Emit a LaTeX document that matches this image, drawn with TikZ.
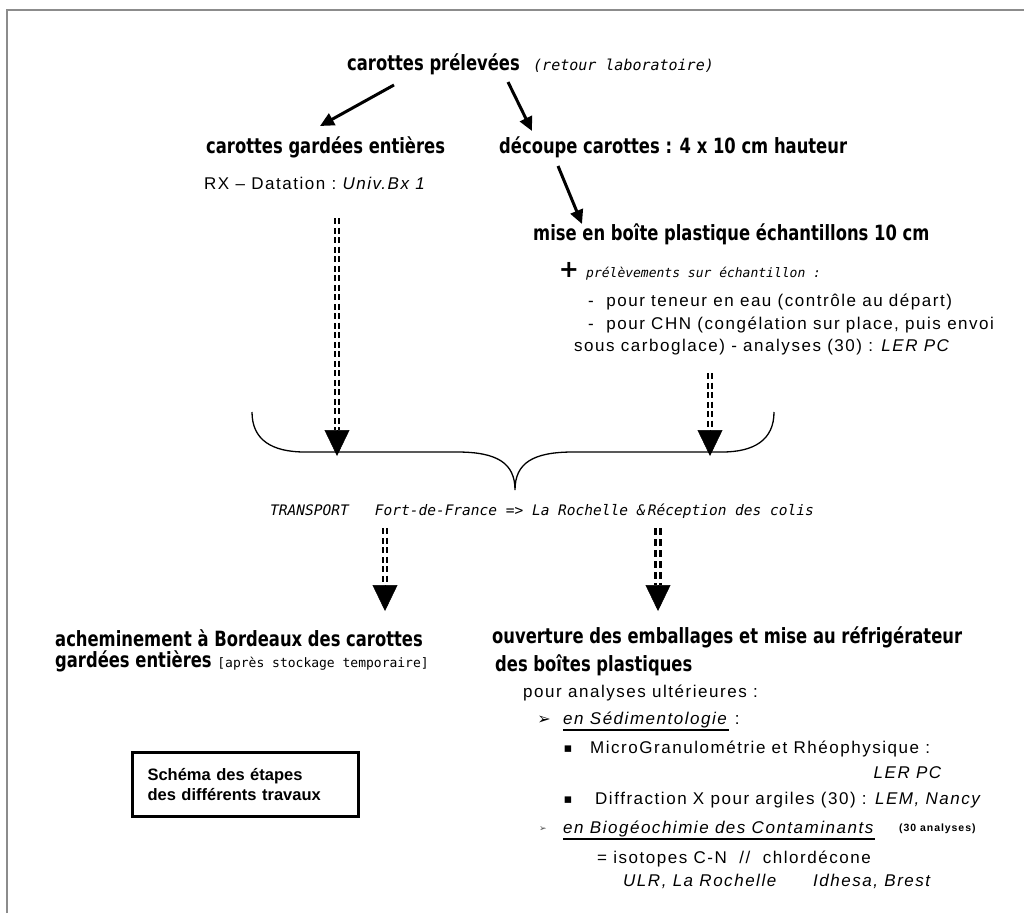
\documentclass[tikz,border=0pt]{standalone}
\usepackage{fontspec}
\setmainfont{Liberation Sans}
\newfontfamily\imp{DejaVu Sans}[FakeStretch=0.78]
\newfontfamily\rg{Liberation Sans}[LetterSpace=9]
\newfontfamily\wi{DejaVu Sans Mono}
\newfontfamily\sym{DejaVu Sans}
\usetikzlibrary{arrows.meta}
\tikzset{
  hd/.style={anchor=west, inner sep=0pt, font=\imp\bfseries\fontsize{21}{25}\selectfont},
  tx/.style={anchor=west, inner sep=0pt, font=\rg\fontsize{17}{20}\selectfont},
  wd/.style={anchor=west, inner sep=0pt, font=\wi\itshape\fontsize{15}{18}\selectfont},
  bul/.style={inner sep=0pt, font=\sym\bfseries\fontsize{16}{16}\selectfont},
  solidarr/.style={line width=3pt, -{Triangle[width=13pt,length=14pt]}},
  ddash/.style={double, double distance=1.8pt, line width=1.7pt, dash pattern=on 6pt off 3.5pt},
  ddashb/.style={double, double distance=1.6pt, line width=3pt, dash pattern=on 7pt off 4pt},
  bigtip/.style={line width=0.5pt, -{Triangle[width=25pt,length=26pt]}},
  frame/.style={draw=black!45, line width=2pt},
  uline/.style={line width=1.8pt}
}
\begin{document}
\begin{tikzpicture}[x=1pt, y=-1pt]
\useasboundingbox (0,0) rectangle (1024,913);
% page frame
\coordinate (f1) at (7,913);
\coordinate (f2) at (7,10);
\coordinate (f3) at (1024,10);
\draw[frame] (f1) -- (f2) -- (f3);

% top level
\node[hd] (top) at (347,64) {carottes prélevées};
\node[wd] (ret) at (533,66) {(retour laboratoire)};
\node[hd] (ent) at (206,147) {carottes gardées entières};
\node[hd] (dec) at (499,147) {découpe carottes : 4 x 10 cm hauteur};
\node[tx] (rx) at (204,183) {RX\ – Datation\ :\ \textit{Univ.Bx 1}};

\coordinate (a1) at (394,85);  \coordinate (a2) at (320,126);
\coordinate (b1) at (508,82);  \coordinate (b2) at (532,131);
\coordinate (c1) at (558,166); \coordinate (c2) at (582,224);
\draw[solidarr] (a1) -- (a2);
\draw[solidarr] (b1) -- (b2);
\draw[solidarr] (c1) -- (c2);

\node[hd] (mise) at (533,234) {mise en boîte plastique échantillons 10 cm};
\node[inner sep=0pt, font=\sym\bfseries\fontsize{24}{24}\selectfont] (plus) at (569,270) {+};
\node[wd, font=\wi\itshape\fontsize{13}{16}\selectfont] (prel) at (586,274) {prélèvements sur échantillon :};
\node[tx] (ten) at (588,302) {-\ \ pour teneur en eau (contrôle au départ)};
\node[tx] (chn) at (588,325) {-\ \ pour CHN (congélation sur place, puis envoi};
\node[tx] (sous) at (574,347) {sous carboglace) - analyses (30) : \textit{LER PC}};

% first dashed arrows
\coordinate (l1) at (337,218); \coordinate (l2) at (337,430); \coordinate (l3) at (337,456);
\coordinate (r1) at (710,373); \coordinate (r2) at (710,430); \coordinate (r3) at (710,456);
\draw[ddash] (l1) -- (l2);
\draw[bigtip] (l2) -- (l3);
\draw[ddash] (r1) -- (r2);
\draw[bigtip] (r2) -- (r3);

% brace
\coordinate (bl) at (252,412);
\coordinate (bt) at (515,490);
\coordinate (br) at (774,412);
\draw[line width=1.3pt] (bl) .. controls (252,440) and (272,452) .. (305,452)
  -- (457,452) .. controls (497,452) and (515,463) .. (bt)
  .. controls (515,463) and (533,452) .. (573,452)
  -- (722,452) .. controls (754,452) and (774,440) .. (br);

\node[wd, anchor=center, font=\wi\itshape\fontsize{14.5}{18}\selectfont] (tr) at (542,511) {TRANSPORT\ \ \ Fort-de-France => La Rochelle \&\,Réception des colis};

% second dashed arrows
\coordinate (m1) at (385,528); \coordinate (m2) at (385,585); \coordinate (m3) at (385,611);
\coordinate (n1) at (658,528); \coordinate (n2) at (658,585); \coordinate (n3) at (658,611);
\draw[ddash] (m1) -- (m2);
\draw[bigtip] (m2) -- (m3);
\draw[ddashb] (n1) -- (n2);
\draw[bigtip] (n2) -- (n3);

% bottom left
\node[hd] (ach) at (55,638) {acheminement à Bordeaux des carottes};
\node[hd] (gar) at (55,661) {gardées entières {\wi\mdseries\upshape\fontsize{13}{16}\selectfont [après stockage temporaire]}};

\node[draw, line width=3pt, anchor=north west, text width=196pt, minimum height=64pt,
      inner xsep=15pt, inner ysep=9pt, align=left,
      font=\bfseries\fontsize{16.5}{20}\selectfont] (box) at (131,751) {Schéma des étapes\\des différents travaux};

% bottom right
\node[hd] (ouv) at (492,637) {ouverture des emballages et mise au réfrigérateur};
\node[hd] (boi) at (495,665) {des boîtes plastiques};
\node[tx] (pa) at (523,693) {pour analyses ultérieures :};
\node[bul] (bu1) at (544,720) {➢};
\node[tx] (sed) at (563,720) {\textit{en Sédimentologie}};
\node[tx] (sedc) at ([xshift=6pt]sed.east) {:};
\draw[uline] ([yshift=-2pt]sed.south west) -- ([yshift=-2pt]sed.south east);
\node[bul, font=\sym\fontsize{13}{13}\selectfont] (sq1) at (568,749) {▪};
\node[tx] (micro) at (590,749) {MicroGranulométrie et Rhéophysique :};
\node[tx, anchor=east] (ler) at (943,773) {\textit{LER PC}};
\node[bul, font=\sym\fontsize{13}{13}\selectfont] (sq2) at (568,800) {▪};
\node[tx] (dif) at (595,800) {Diffraction X pour argiles (30) : \textit{LEM, Nancy}};
\node[bul, font=\sym\fontsize{9}{9}\selectfont, text=black!70] (bu2) at (543,829) {➢};
\node[tx] (bio) at (563,829) {\textit{en Biogéochimie des Contaminants}};
\draw[uline] ([yshift=-2pt]bio.south west) -- ([yshift=-2pt]bio.south east);
\node[anchor=west, inner sep=0pt, font=\rg\bfseries\fontsize{10.5}{12}\selectfont] (ana) at (899,829) {(30 analyses)};
\node[tx] (iso) at (597,859) {= isotopes C-N \ // \ chlordécone};
\node[tx] (ulr) at (623,881) {\textit{ULR, La Rochelle}};
\node[tx] (idh) at (813,881) {\textit{Idhesa, Brest}};
\end{tikzpicture}
\end{document}
